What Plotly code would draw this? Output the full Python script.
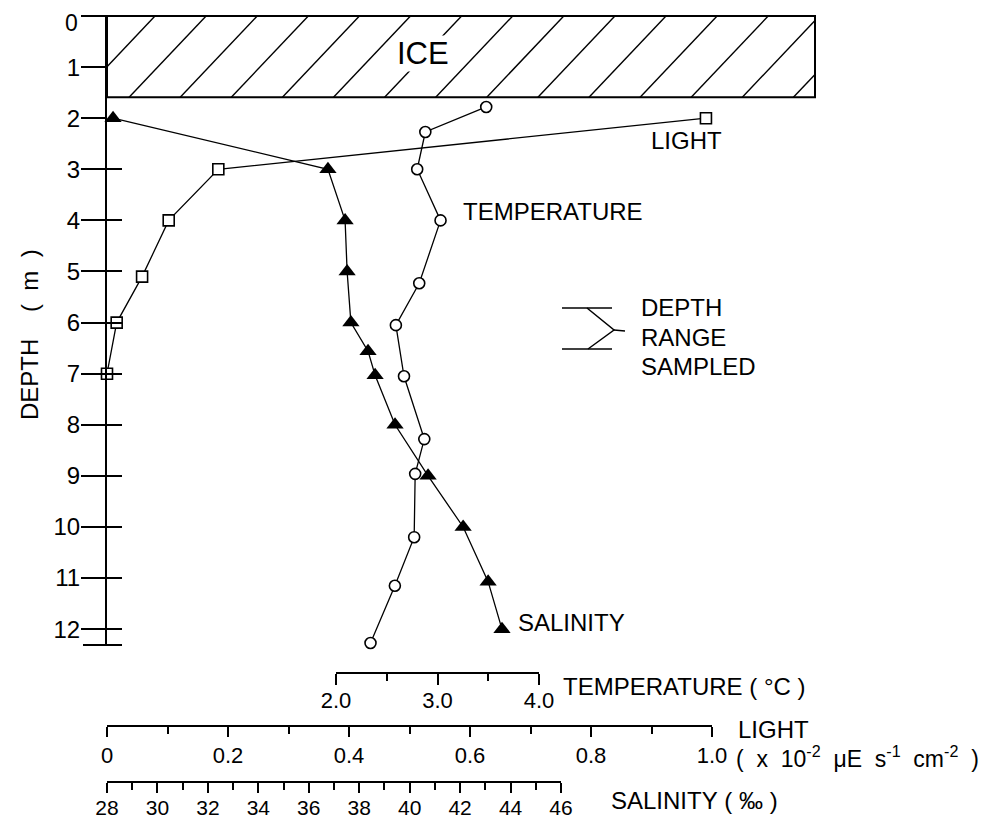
import plotly.graph_objects as go

# ---------------- data ----------------
light_depth = [2.0, 3.0, 4.0, 5.1, 6.0, 7.0]
light_val = [0.99, 0.184, 0.102, 0.058, 0.016, 0.0]

temp_depth = [1.78, 2.27, 3.0, 4.0, 5.23, 6.05, 7.05, 8.28, 8.96, 10.2, 11.15, 12.27]
temp_val = [3.48, 2.88, 2.80, 3.03, 2.82, 2.59, 2.67, 2.87, 2.78, 2.77, 2.58, 2.34]

sal_depth = [2.0, 3.0, 4.0, 5.0, 6.0, 6.56, 7.03, 8.0, 9.0, 10.0, 11.07, 12.0]
sal_val = [28.24, 36.76, 37.44, 37.52, 37.67, 38.35, 38.63, 39.42, 40.73, 42.12, 43.11, 43.66]

depth_ticks = list(range(0, 13))
depth_ticktext = [""] + [str(d) for d in depth_ticks[1:]]   # "0" drawn separately
depth_inner_ticks = list(range(3, 13))
ice_bottom = 1.59
depth_max = 12.31

light_ticks = [0, 0.2, 0.4, 0.6, 0.8, 1.0]
light_ticktext = ["0", "0.2", "0.4", "0.6", "0.8", "1.0"]
temp_ticks = [2.0, 3.0, 4.0]
sal_ticks = list(range(28, 47, 2))

# ---------------- layout helpers ----------------
OFF = 8                      # page body margin of the html
W, H = 991 - OFF, 820 - OFF
FONT = "Liberation Sans"
def X(px): return (px - OFF) / W
def Y(py): return 1 - (py - OFF) / H

Y_TOP, Y_BOT = 16, 645          # pixel extent of depth axis
X_AX = 107                       # depth axis x position
X_ICE_R = 815
def dpx(d): return Y_TOP + d * (Y_BOT - Y_TOP) / depth_max

fig = go.Figure()

mk_line = dict(color="black", width=1.6)
fig.add_trace(go.Scatter(
    x=light_val, y=light_depth, xaxis="x", yaxis="y", mode="lines+markers",
    line=dict(color="black", width=1.3),
    marker=dict(symbol="square", size=11, color="white", line=mk_line),
    cliponaxis=False, showlegend=False))
fig.add_trace(go.Scatter(
    x=sal_val, y=sal_depth, xaxis="x3", yaxis="y", mode="lines+markers",
    line=dict(color="black", width=1.3),
    marker=dict(symbol="triangle-up", size=15, color="black", line=dict(width=0)),
    cliponaxis=False, showlegend=False))
fig.add_trace(go.Scatter(
    x=temp_val, y=temp_depth, xaxis="x2", yaxis="y", mode="lines+markers",
    line=dict(color="black", width=1.3),
    marker=dict(symbol="circle", size=11, color="white", line=mk_line),
    cliponaxis=False, showlegend=False))

# extra trace to carry the inner (right-pointing) depth ticks
fig.add_trace(go.Scatter(x=[None], y=[None], xaxis="x", yaxis="y2", showlegend=False))

common_x = dict(showgrid=False, zeroline=False, showline=True, linecolor="black",
                linewidth=2, ticks="outside", tickcolor="black", tickwidth=2,
                anchor="free", fixedrange=True, ticklabeloverflow="allow")

fig.update_layout(
    width=W, height=H, margin=dict(l=0, r=0, t=0, b=0, autoexpand=False),
    paper_bgcolor="white", plot_bgcolor="rgba(0,0,0,0)",
    font=dict(family=FONT, color="black"),
    xaxis=dict(domain=[X(107), X(712)], range=[0, 1], position=Y(726),
               tickvals=light_ticks, ticktext=light_ticktext, ticklen=10,
               ticklabelstandoff=0, tickfont=dict(family=FONT, size=22, color="black"),
               minor=dict(dtick=0.1, tick0=0, ticks="outside", ticklen=7,
                          tickwidth=2, tickcolor="black"),
               **common_x),
    xaxis2=dict(domain=[X(336), X(539)], range=[2, 4], position=Y(673),
                tickvals=temp_ticks, tickformat=".1f", ticklen=11,
                ticklabelstandoff=-3, tickfont=dict(family=FONT, size=22, color="black"),
                minor=dict(dtick=0.5, tick0=2, ticks="outside", ticklen=7,
                           tickwidth=2, tickcolor="black"),
                **common_x),
    xaxis3=dict(domain=[X(107), X(561)], range=[28, 46], position=Y(782),
                tickvals=sal_ticks, ticklen=10, ticklabelstandoff=-3,
                tickfont=dict(family=FONT, size=21, color="black"),
                minor=dict(dtick=1, tick0=28, ticks="outside", ticklen=7,
                           tickwidth=2, tickcolor="black"),
                **common_x),
    yaxis=dict(domain=[Y(Y_BOT), Y(Y_TOP)], range=[depth_max, 0], anchor="x",
               showgrid=False, zeroline=False, showline=True, linecolor="black",
               linewidth=2, ticks="outside", ticklen=24, tickwidth=2,
               tickcolor="black", tickvals=depth_ticks, ticktext=depth_ticktext,
               ticklabelstandoff=-4, ticklabeloverflow="allow",
               tickfont=dict(family=FONT, size=24, color="black"), fixedrange=True),
    yaxis2=dict(domain=[Y(Y_BOT), Y(Y_TOP)], range=[depth_max, 0], anchor="x",
                overlaying="y", side="left", showgrid=False, zeroline=False,
                showline=False, ticks="inside", ticklen=15, tickwidth=2,
                tickcolor="black", tickvals=depth_inner_ticks,
                showticklabels=False, fixedrange=True),
)

shapes = []
# ice box
shapes.append(dict(type="rect", xref="paper", yref="paper",
                   x0=X(X_AX), x1=X(X_ICE_R), y0=Y(dpx(ice_bottom)), y1=Y(dpx(0)),
                   line=dict(color="black", width=2), fillcolor="rgba(0,0,0,0)"))
# hatching inside ice
yb = dpx(ice_bottom)
yt = dpx(0)
dy = yb - yt
run = 77.0
for k in range(-3, 17):
    t = 155 + 51.1 * k
    b = t - run
    if t < X_AX or b > X_ICE_R:
        continue
    x0, y0 = b, yb
    x1, y1 = t, yt
    if x0 < X_AX:
        y0 = yb - (X_AX - b) * dy / run
        x0 = X_AX
    if x1 > X_ICE_R:
        y1 = yt + (t - X_ICE_R) * dy / run
        x1 = X_ICE_R
    shapes.append(dict(type="line", xref="paper", yref="paper",
                       x0=X(x0), y0=Y(y0), x1=X(x1), y1=Y(y1),
                       line=dict(color="black", width=1.4)))
# top tick at depth 0 (joins the ice surface line)
shapes.append(dict(type="line", xref="paper", yref="paper",
                   x0=X(83), x1=X(X_AX), y0=Y(dpx(0)), y1=Y(dpx(0)),
                   line=dict(color="black", width=2)))
# bottom cap of depth axis
shapes.append(dict(type="line", xref="paper", yref="paper",
                   x0=X(83), x1=X(122), y0=Y(Y_BOT), y1=Y(Y_BOT),
                   line=dict(color="black", width=2)))
# depth range sampled bracket
for yy in (308, 349):
    shapes.append(dict(type="line", xref="paper", yref="paper",
                       x0=X(562), x1=X(612), y0=Y(yy), y1=Y(yy),
                       line=dict(color="black", width=1.5)))
shapes.append(dict(type="path", xref="paper", yref="paper",
                   path=f"M {X(587)} {Y(308)} L {X(614)} {Y(330)} L {X(588)} {Y(349)}",
                   line=dict(color="black", width=1.5)))
shapes.append(dict(type="line", xref="paper", yref="paper",
                   x0=X(614), x1=X(625), y0=Y(330), y1=Y(331),
                   line=dict(color="black", width=1.5)))
fig.update_layout(shapes=shapes)

def label(text, x, y, size=24, xanchor="left", angle=0, bg=None, yanchor="middle"):
    fig.add_annotation(text=text, x=X(x), y=Y(y), xref="paper", yref="paper",
                       xanchor=xanchor, yanchor=yanchor, showarrow=False,
                       textangle=angle, bgcolor=bg, borderpad=0,
                       font=dict(family=FONT, size=size, color="black"))

NB = "\u00a0"
label(str(depth_ticks[0]), 79, 8.5, size=23, xanchor="right", yanchor="top")
label("ICE", 423, 54, size=31, xanchor="center", bg="white")
label("LIGHT", 650, 141)
label("TEMPERATURE", 462, 211)
label("SALINITY", 517, 622)
label("DEPTH", 640, 307)
label("RANGE", 640, 337)
label("SAMPLED", 640, 366)
label(f"DEPTH{NB*4}({NB*2}m{NB*2})", 30, 335, xanchor="center", angle=-90)
label(f"TEMPERATURE{NB}({NB}°C{NB})", 562, 686)
label("LIGHT", 737, 729)
label(f"({NB*2}x{NB*2}10<sup>-2</sup>{NB*2}μE{NB*2}s<sup>-1</sup>{NB*2}cm<sup>-2</sup>{NB*2})",
      735, 757, size=23)
label(f"SALINITY{NB}({NB}‰{NB})", 610, 800)

fig.write_html("out.html")
